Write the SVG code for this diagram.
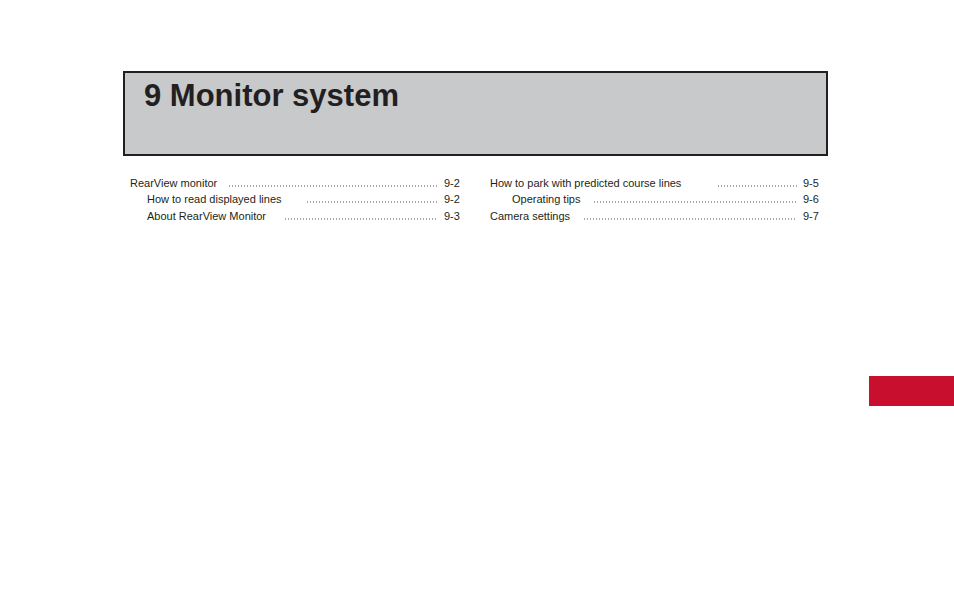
<svg xmlns="http://www.w3.org/2000/svg" width="954" height="596" viewBox="0 0 954 596">
<style>
.t{font-family:"Liberation Sans",Arial,sans-serif;font-size:11px;fill:#231f20}
.d{stroke:#231f20;stroke-width:0.9;stroke-dasharray:0.9 2.1}
</style>
<rect width="954" height="596" fill="#fff"/>
<g id="header">
<rect x="124" y="72" width="703" height="83" fill="#c8c9cb" stroke="#231f20" stroke-width="2"/>
<text x="144" y="106" font-family="Liberation Sans,Arial,sans-serif" font-weight="bold" font-size="31" fill="#231f20">9 Monitor system</text>
</g>
<g id="toc-left">
<text class="t" x="130" y="187">RearView monitor</text><line class="d" x1="229" y1="186" x2="437" y2="186"/><text class="t" x="444" y="187">9-2</text>
<text class="t" x="147" y="203">How to read displayed lines</text><line class="d" x1="307" y1="202" x2="437" y2="202"/><text class="t" x="444" y="203">9-2</text>
<text class="t" x="147" y="220">About RearView Monitor</text><line class="d" x1="285" y1="219" x2="437" y2="219"/><text class="t" x="444" y="220">9-3</text>
</g>
<g id="toc-right">
<text class="t" x="490" y="187">How to park with predicted course lines</text><line class="d" x1="718" y1="186" x2="797" y2="186"/><text class="t" x="803" y="187">9-5</text>
<text class="t" x="512" y="203">Operating tips</text><line class="d" x1="594" y1="202" x2="797" y2="202"/><text class="t" x="803" y="203">9-6</text>
<text class="t" x="490" y="220">Camera settings</text><line class="d" x1="584" y1="219" x2="797" y2="219"/><text class="t" x="803" y="220">9-7</text>
</g>
<rect id="tab" x="869" y="376" width="85" height="30" fill="#c8102e"/>
</svg>
